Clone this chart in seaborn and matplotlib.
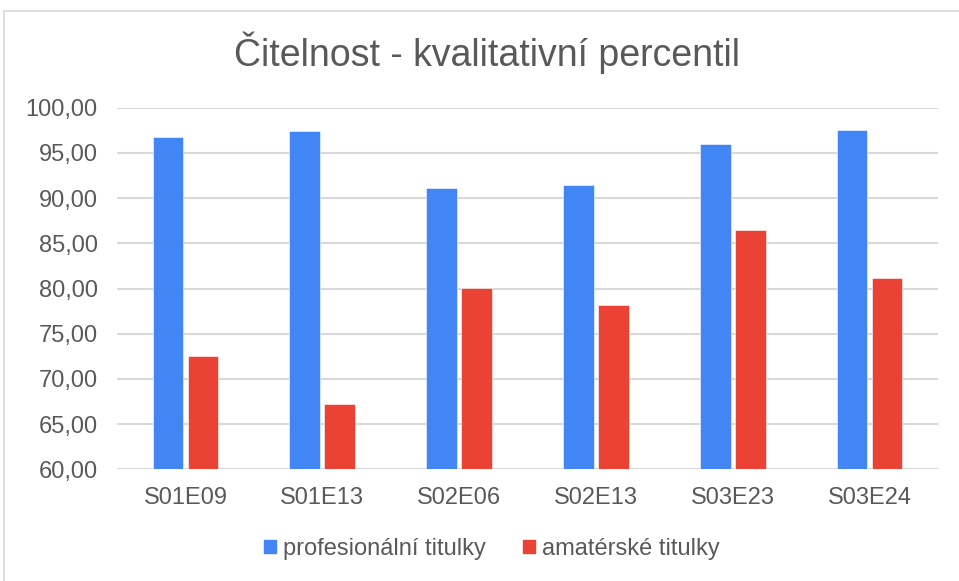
import pandas as pd
import matplotlib.pyplot as plt
import seaborn as sns
from matplotlib.patches import Rectangle

# data
episodes = ['S01E09', 'S01E13', 'S02E06', 'S02E13', 'S03E23', 'S03E24']
profesionalni = [96.8, 97.4, 91.1, 91.5, 96.0, 97.5]
amaterske = [72.5, 67.2, 80.1, 78.2, 86.5, 81.2]
series_names = ['profesionální titulky', 'amatérské titulky']

df = pd.DataFrame({
    'epizoda': episodes * 2,
    'hodnota': profesionalni + amaterske,
    'typ': [series_names[0]] * len(episodes) + [series_names[1]] * len(episodes),
})

sns.set_style('white')
plt.rcParams['font.family'] = ['Liberation Sans', 'DejaVu Sans']
text_col = '#595959'
grid_col = '#d9d9d9'
palette = {series_names[0]: '#4285f4', series_names[1]: '#ea4335'}

fig = plt.figure(figsize=(9.59, 5.81), dpi=100)
ax = fig.add_axes([117 / 959, 1 - 469.3 / 581, (938 - 117) / 959, (469.3 - 107.7) / 581])

sns.barplot(data=df, x='epizoda', y='hodnota', hue='typ', palette=palette,
            width=0.51, gap=0.12, ax=ax, legend=False, saturation=1,
            edgecolor='white', linewidth=0.4)

ax.set_ylim(60, 100)
ax.set_yticks(range(60, 101, 5))
ax.set_yticklabels([f"{v},00" for v in range(60, 101, 5)])
ax.set_xlim(-0.5, len(episodes) - 0.5)
ax.set_xlabel('')
ax.set_ylabel('')
ax.grid(axis='y', color=grid_col, linewidth=1.5)
ax.set_axisbelow(True)
for s in ax.spines.values():
    s.set_visible(False)
ax.tick_params(axis='both', length=0, labelsize=17, colors=text_col)
ax.tick_params(axis='y', pad=14)
ax.tick_params(axis='x', pad=13)

fig.text(0.508, 1 - 53 / 581, 'Čitelnost - kvalitativní percentil',
         ha='center', va='center', fontsize=27, color=text_col)

handles = [Rectangle((0, 0), 1, 1, color=palette[n]) for n in series_names]
fig.legend(handles, series_names, loc='center', bbox_to_anchor=(0.513, 1 - 549 / 581),
           ncol=2, frameon=False, fontsize=17, labelcolor=text_col,
           handlelength=0.5, handleheight=0.5, handletextpad=0.3, columnspacing=1.6)

# light frame around the chart
fig.patches.append(Rectangle((4 / 959, -0.01), 1.0, 1 - 11 / 581 + 0.01,
                             transform=fig.transFigure, fill=False,
                             edgecolor='#d9d9d9', linewidth=1.2))

fig.savefig('out.png', dpi=100)
